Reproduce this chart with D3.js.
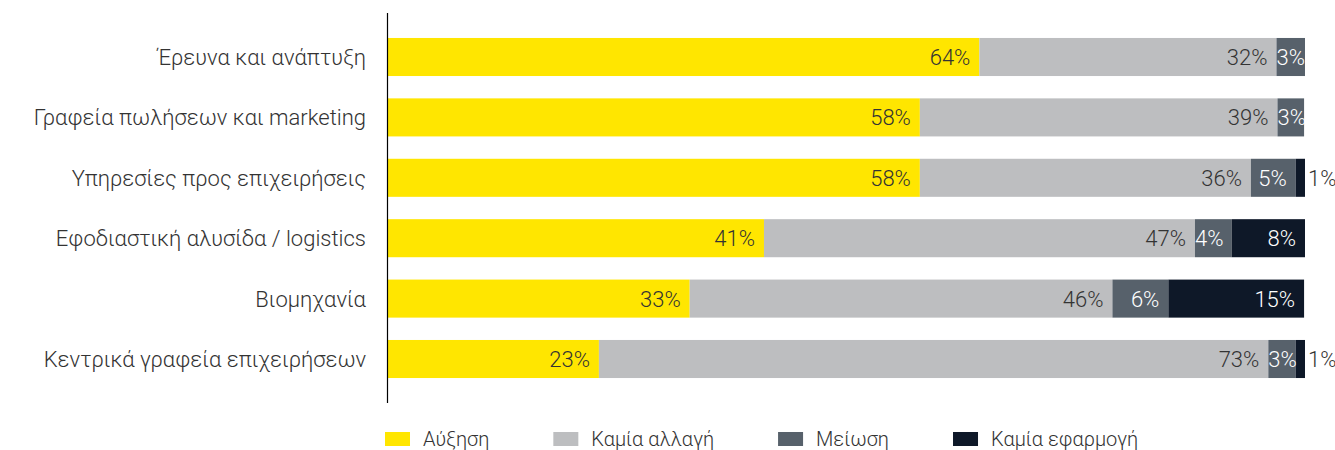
<!DOCTYPE html>
<html>
<head>
<meta charset="utf-8">
<script src="https://cdn.jsdelivr.net/npm/d3@7"></script>
<style>
  body { margin: 0; background: #fff; }
  svg { display: block; font-family: Roboto, "Noto Sans", sans-serif; font-weight: 300; }
</style>
</head>
<body>
<div id="chart"></div>
<script>
// sectors, top to bottom
const categories = [
  "Έρευνα και ανάπτυξη",
  "Γραφεία πωλήσεων και marketing",
  "Υπηρεσίες προς επιχειρήσεις",
  "Εφοδιαστική αλυσίδα / logistics",
  "Βιομηχανία",
  "Κεντρικά γραφεία επιχειρήσεων"
];
const seriesNames = ["Αύξηση", "Καμία αλλαγή", "Μείωση", "Καμία εφαρμογή"];

// values in %
const increase   = [64.49, 58.0, 58.0, 41.0, 32.9, 23.0];
const noChange   = [32.4,  39.0, 36.1, 47.0, 46.1, 73.0];
const decrease   = [3.11,  2.9,  4.9,  4.0,  6.1,  3.0];
const notApplied = [0,     0,    1.0,  8.0,  14.8, 1.0];

const colors = ["#FFE600", "#BDBEC0", "#57616B", "#0E1828"];
const labelColors = ["#333333", "#333333", "#ffffff", "#ffffff"];

const W = 1335, H = 450;
const margin = { left: 388, right: 30 };

const svg = d3.select("#chart").append("svg")
  .attr("width", W).attr("height", H);

const x = d3.scaleLinear().domain([0, 100]).range([margin.left, 1305]);
const y = d3.scaleBand().domain(categories).range([26.8, 389.2])
  .paddingInner(0.37).paddingOuter(0.185);

const rows = categories.map((c, i) => ({
  category: c,
  [seriesNames[0]]: increase[i],
  [seriesNames[1]]: noChange[i],
  [seriesNames[2]]: decrease[i],
  [seriesNames[3]]: notApplied[i]
}));
const stacked = d3.stack().keys(seriesNames)(rows);

const layers = svg.append("g").selectAll("g")
  .data(stacked).join("g")
  .attr("fill", (d, i) => colors[i]);

layers.selectAll("rect")
  .data(d => d.filter(s => s[1] - s[0] > 0))
  .join("rect")
  .attr("x", d => x(d[0]))
  .attr("y", d => y(d.data.category))
  .attr("width", d => x(d[1]) - x(d[0]))
  .attr("height", y.bandwidth());

// value labels
stacked.forEach((layer, li) => {
  layer.forEach(s => {
    const v = s[1] - s[0];
    if (v <= 0) return;
    const t = svg.append("text")
      .attr("y", y(s.data.category) + y.bandwidth() / 2)
      .attr("dy", "0.36em")
      .attr("font-size", 22)
      .text(Math.round(v) + "%");
    const tw = t.node().getComputedTextLength();
    const x0 = x(s[0]), x1 = x(s[1]);
    if (x1 - x0 < 15) {
      // too thin: label outside, right of the bar
      t.attr("x", x1 + 3).attr("fill", "#333");
    } else {
      t.attr("x", Math.max(x0, x1 - 9 - tw)).attr("fill", labelColors[li]);
    }
  });
});

// category axis
svg.append("line")
  .attr("x1", 387.5).attr("x2", 387.5)
  .attr("y1", 13).attr("y2", 403)
  .attr("stroke", "#000").attr("stroke-width", 1.2);

svg.append("g").selectAll("text")
  .data(categories).join("text")
  .attr("x", 366)
  .attr("y", d => y(d) + y.bandwidth() / 2)
  .attr("dy", "0.36em")
  .attr("text-anchor", "end")
  .attr("font-size", 22)
  .attr("fill", "#333")
  .text(d => d);

// legend
const legend = svg.append("g").attr("transform", "translate(385,432)");
let lx = 0;
seriesNames.forEach((name, i) => {
  const g = legend.append("g").attr("transform", `translate(${lx},0)`);
  g.append("rect").attr("width", 25).attr("height", 14).attr("fill", colors[i]);
  const t = g.append("text")
    .attr("x", 38).attr("y", 7).attr("dy", "0.36em")
    .attr("font-size", 20).attr("fill", "#333")
    .text(name);
  lx += 38 + t.node().getComputedTextLength() + 64;
});
</script>
</body>
</html>
